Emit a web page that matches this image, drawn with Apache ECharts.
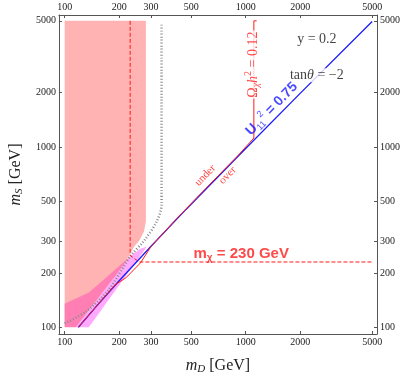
<!DOCTYPE html>
<html><head><meta charset="utf-8">
<script src="https://cdn.jsdelivr.net/npm/echarts@6/dist/echarts.min.js"></script>
<style>html,body{margin:0;padding:0;background:#fff}#c{width:406px;height:380px}</style>
</head><body><div id="c"></div>
<script>
// ---- data (GeV) ----
const tickValues = [100, 200, 300, 500, 1000, 2000, 5000];
const xRange = [92.9, 5318];
const yRange = [91.7, 5388];

// light pink excluded region
const pinkMD = [100, 281, 281, 274, 258, 242, 228, 190, 100];
const pinkMS = [5000, 5000, 387, 338, 302, 280, 251, 190, 100];
// hot pink region
const hotMD = [100, 100, 136, 174, 231, 115.5];
const hotMS = [100, 135, 156, 193, 248, 100];
// violet region
const vioMD = [115.5, 136, 285, 262, 231];
const vioMS = [100, 100, 280, 272, 248];
// gray dotted boundary
const grayMD = [343, 343, 323, 275, 231, 174, 131, 100];
const grayMS = [4758, 478, 387, 302, 248, 160, 122, 105];
// m_chi = 230 GeV dashed contour
const chiMD = [230, 230, 258, 5000];
const chiMS = [5000, 250, 230, 230];
// U11^2 = 0.75 contour
const uMD = [119, 150, 200, 300, 468, 1000, 2000, 5000];
const uMS = [100, 131, 181, 281, 450, 980, 1980, 4960];
// Omega h^2 = 0.12 contour
const omMD = [1150, 1110, 1110, 900, 600, 400, 300, 262, 218, 190, 150, 119];
const omMS = [5000, 5000, 1120, 888, 586, 384, 280, 227, 188, 172, 131, 100];

// annotation anchor points (mD, mS)
const lblY = [2474, 3952];
const lblTan = [2474, 2495];
const lblU = [1394, 1625];
const lblOm = [1096, 2860];
const lblUnder = [598, 694];
const lblOver = [795, 694];
const lblChi = [945, 254];

const serif = 'Liberation Serif';
const sans = 'Liberation Sans';
const frame = '#555';

function fmt(v) { const n = v < 20 ? Math.pow(10, v) : v; return String(Math.round(n)); }
function pts(xs, ys) { return xs.map((x, i) => [x, ys[i]]); }

function poly(xs, ys, color, z) {
  return {
    type: 'custom', z: z, silent: true, animation: false,
    data: [[xs[0], ys[0]]],
    renderItem: function (params, api) {
      const p = xs.map((x, i) => api.coord([x, ys[i]]));
      return { type: 'polygon', shape: { points: p }, style: { fill: color } };
    }
  };
}
function line(xs, ys, color, width, type, z, smooth) {
  return {
    type: 'line', z: z, silent: true, animation: false, showSymbol: false, symbol: 'none',
    smooth: smooth || false,
    data: pts(xs, ys),
    lineStyle: { color: color, width: width, type: type }
  };
}
function nameStyle() {
  return {
    rich: {
      i: { fontFamily: serif, fontStyle: 'italic', fontSize: 16, color: '#222', lineHeight: 18 },
      s: { fontFamily: serif, fontStyle: 'italic', fontSize: 11, color: '#222', verticalAlign: 'bottom', lineHeight: 14 },
      n: { fontFamily: serif, fontSize: 16, color: '#222', lineHeight: 18 }
    }
  };
}
function baseAxis(range, pos) {
  return {
    type: 'log', logBase: 10, min: range[0], max: range[1], position: pos,
    axisLine: { show: true, onZero: false, lineStyle: { color: frame, width: 1 } },
    axisTick: { show: true, inside: true, length: 3, customValues: tickValues, lineStyle: { color: frame } },
    axisLabel: { show: true, customValues: tickValues, formatter: fmt, color: '#222', fontFamily: serif, fontSize: 10, margin: 3 },
    splitLine: { show: false }, minorTick: { show: false }, minorSplitLine: { show: false }
  };
}
function xAx(pos, withName) {
  const a = baseAxis(xRange, pos);
  if (withName) {
    a.name = '{i|m}{s|D}{n| [GeV]}';
    a.nameLocation = 'middle';
    a.nameGap = 23;
    a.nameTextStyle = nameStyle();
  }
  return a;
}
function yAx(pos, withName) {
  const a = baseAxis(yRange, pos);
  if (withName) {
    a.name = '{i|m}{s|S}{n| [GeV]}';
    a.nameLocation = 'middle';
    a.nameGap = 33;
    a.nameTextStyle = nameStyle();
  }
  return a;
}

const red = '#ff1a1a';
const blue = '#1a1aff';

const labels = [
  { value: lblY, label: { formatter: 'y = 0.2', fontFamily: serif, fontSize: 14, color: '#111' } },
  { value: lblTan, label: { formatter: 'tan{it|θ} = −2', fontFamily: serif, fontSize: 14, color: '#111', backgroundColor: '#fff', padding: [0, 1],
      rich: { it: { fontFamily: serif, fontStyle: 'italic', fontSize: 14, color: '#111' } } } },
  { value: lblU, label: { rotate: 46, formatter: '{a|U}{s|11}{p|2}{a| = 0.75}', color: blue,
      rich: {
        a: { fontFamily: sans, fontWeight: 'bold', fontSize: 14, color: blue, lineHeight: 18 },
        s: { fontFamily: sans, fontSize: 9, color: blue, verticalAlign: 'bottom', lineHeight: 14 },
        p: { fontFamily: sans, fontSize: 9, color: blue, verticalAlign: 'top', lineHeight: 16 }
      } } },
  { value: lblOm, label: { rotate: 90, backgroundColor: '#fff', padding: [0, 1], formatter: '{a|Ω}{s|χ}{i|h}{p|2}{a| = 0.12}',
      rich: {
        a: { fontFamily: serif, fontSize: 14, color: red, lineHeight: 18 },
        i: { fontFamily: serif, fontStyle: 'italic', fontSize: 14, color: red, lineHeight: 18 },
        s: { fontFamily: serif, fontStyle: 'italic', fontSize: 10, color: red, verticalAlign: 'bottom', lineHeight: 14 },
        p: { fontFamily: serif, fontSize: 10, color: red, verticalAlign: 'top', lineHeight: 16 }
      } } },
  { value: lblUnder, label: { rotate: 46, formatter: 'under', fontFamily: serif, fontSize: 11, color: red } },
  { value: lblOver, label: { rotate: 46, formatter: 'over', fontFamily: serif, fontSize: 11, color: red } },
  { value: lblChi, label: { formatter: '{a|m}{s|χ}{a| = 230 GeV}',
      rich: {
        a: { fontFamily: sans, fontWeight: 'bold', fontSize: 15, color: red, lineHeight: 18 },
        s: { fontFamily: sans, fontWeight: 'bold', fontSize: 10, color: red, verticalAlign: 'bottom', lineHeight: 14 }
      } } }
];

const chart = echarts.init(document.getElementById('c'), null, { renderer: 'canvas' });
chart.setOption({
  animation: false,
  backgroundColor: '#fff',
  grid: { left: 49, right: 29, top: 15, bottom: 37, containLabel: false },
  xAxis: [xAx('bottom', true), xAx('top', false)],
  yAxis: [yAx('left', true), yAx('right', false)],
  series: [
    poly(pinkMD, pinkMS, '#ffb3b3', 1),
    poly(vioMD, vioMS, '#ffaaff', 2),
    poly(hotMD, hotMS, '#ff7fb4', 3),
    line(grayMD, grayMS, '#8a8a8a', 2.5, [1, 2], 4, 0.3),
    line(chiMD, chiMS, red, 1, [4, 2], 5),
    line(uMD, uMS, blue, 1.3, 'solid', 6),
    line(omMD, omMS, red, 1, 'solid', 7),
    {
      type: 'scatter', z: 10, silent: true, animation: false, symbolSize: 0,
      data: labels.map(l => ({ value: l.value, label: Object.assign({ show: true, position: 'inside' }, l.label) }))
    }
  ]
});
</script>
</body></html>
